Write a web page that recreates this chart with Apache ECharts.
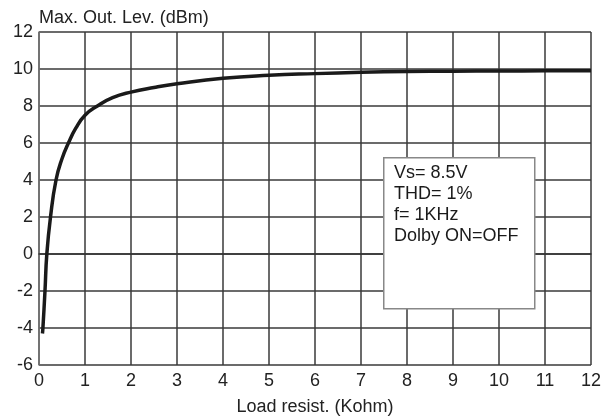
<!DOCTYPE html>
<html><head><meta charset="utf-8">
<script src="https://cdn.jsdelivr.net/npm/echarts@6/dist/echarts.min.js"></script>
<style>html,body{margin:0;padding:0;background:#fff}#c{width:608px;height:418px}</style>
</head><body><div id="c"></div>
<script>
const loadKohm = [0.075,0.085,0.13,0.17,0.25,0.37,0.5,0.64,0.8,1.0,1.27,1.6,2.0,2.5,3,4,5,6,7,8,9,10,11,12];
const levelDbm = [-4.3,-4,-2,0,2,4,5.15,6,6.8,7.5,8,8.45,8.75,9.0,9.2,9.5,9.66,9.75,9.82,9.86,9.88,9.89,9.9,9.9];
const xTicks = [0,1,2,3,4,5,6,7,8,9,10,11,12];
const yTicks = [-6,-4,-2,0,2,4,6,8,10,12];
const noteLines = ['Vs= 8.5V','THD= 1%','f= 1KHz','Dolby ON=OFF'];
const font = '"Liberation Sans", Arial, sans-serif';
const chart = echarts.init(document.getElementById('c'), null, {renderer:'canvas'});
chart.setOption({
  animation:false,
  grid:{left:39,right:17,top:32,bottom:53,containLabel:false,outerBoundsMode:'none'},
  xAxis:{type:'value',min:0,max:12,interval:1,
    name:'Load resist. (Kohm)',nameLocation:'middle',nameGap:33,
    nameTextStyle:{fontFamily:font,fontSize:18,color:'#222'},
    axisLine:{lineStyle:{color:'#333',width:1.5}},axisTick:{show:false},
    axisLabel:{fontFamily:font,fontSize:18,color:'#222',margin:7,formatter:v=>xTicks.includes(v)?String(v):''},
    splitLine:{show:true,lineStyle:{color:'#3a3a3a',width:1.5}}},
  yAxis:{type:'value',min:-6,max:12,interval:2,
    name:'Max. Out. Lev. (dBm)',nameLocation:'end',nameGap:5,
    nameTextStyle:{fontFamily:font,fontSize:18,color:'#222',align:'left'},
    axisLine:{show:true,lineStyle:{color:'#777',width:1.5}},axisTick:{show:false},
    axisLabel:{fontFamily:font,fontSize:18,color:'#222',margin:6,formatter:v=>yTicks.includes(v)?String(v):''},
    splitLine:{show:true,lineStyle:{color:'#3a3a3a',width:1.5}}},
  series:[{type:'line',data:loadKohm.map((x,i)=>[x,levelDbm[i]]),
    showSymbol:false,smooth:true,
    lineStyle:{color:'#1a1a1a',width:3.5},z:3}],
  graphic:[
    {type:'rect',left:383,top:157,z:100,shape:{x:0,y:0,width:151,height:151},style:{fill:'#ffffff',stroke:'#888',lineWidth:1.5}},
    ...noteLines.map((t,i)=>({type:'text',left:394,top:164+i*21,z:101,style:{text:t,font:'18px '+font,fill:'#1a1a1a'}}))
  ]
});
</script></body></html>
